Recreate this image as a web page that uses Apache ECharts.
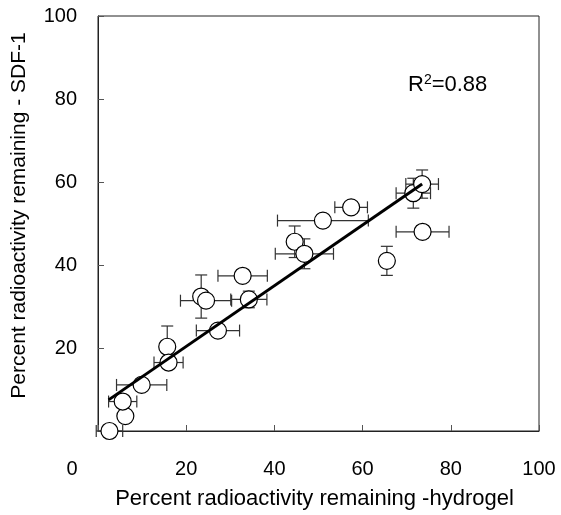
<!DOCTYPE html>
<html>
<head>
<meta charset="utf-8">
<script src="https://cdn.jsdelivr.net/npm/echarts@6/dist/echarts.min.js"></script>
<style>
html, body { margin: 0; padding: 0; background: #fff; }
#chart { width: 561px; height: 515px; }
</style>
</head>
<body>
<div id="chart"></div>
<script>
// values
var hydrogel = [2.6, 6.2, 5.6, 9.9, 15.7, 16.0, 27.2, 23.4, 24.5, 32.8, 34.2, 44.6, 46.8, 51.0, 57.4, 65.5, 71.5, 73.5, 73.6];
var sdf1     = [0.0, 3.6, 7.1, 11.1, 20.3, 16.5, 24.2, 32.4, 31.4, 37.4, 31.7, 45.6, 42.7, 50.7, 53.9, 41.0, 57.3, 59.5, 48.0];
var errX     = [3.0, 0, 3.2, 5.7, 0, 3.3, 4.9, 0, 5.8, 5.6, 4.1, 0, 6.6, 10.3, 3.7, 0, 3.9, 3.7, 6.0];
var errY     = [0, 0, 0, 0, 5.0, 0, 0, 5.2, 0, 0, 2.0, 3.8, 3.6, 1.5, 0, 3.5, 3.6, 3.4, 1.5];
var fitX = [2.4, 73.5];
var fitY = [7.5, 59.5];
var xTicks = [0, 20, 40, 60, 80, 100];
var yTicks = [0, 20, 40, 60, 80, 100];

var font = 'Liberation Sans, Arial, sans-serif';
var myChart = echarts.init(document.getElementById('chart'));

var points = hydrogel.map(function (x, i) { return [x, sdf1[i]]; });
var bars = hydrogel.map(function (x, i) { return [x, sdf1[i], errX[i], errY[i]]; });
var fit = fitX.map(function (x, i) { return [x, fitY[i]]; });

function renderErr(params, api) {
    var x = api.value(0), y = api.value(1), ex = api.value(2), ey = api.value(3);
    var cap = 6;
    var st = { stroke: '#333', lineWidth: 1.2 };
    var kids = [];
    if (ex > 0) {
        var l = api.coord([x - ex, y]), r = api.coord([x + ex, y]);
        kids.push({ type: 'line', shape: { x1: l[0], y1: l[1], x2: r[0], y2: r[1] }, style: st });
        kids.push({ type: 'line', shape: { x1: l[0], y1: l[1] - cap, x2: l[0], y2: l[1] + cap }, style: st });
        kids.push({ type: 'line', shape: { x1: r[0], y1: r[1] - cap, x2: r[0], y2: r[1] + cap }, style: st });
    }
    if (ey > 0) {
        var t = api.coord([x, y + ey]), b = api.coord([x, y - ey]);
        kids.push({ type: 'line', shape: { x1: t[0], y1: t[1], x2: b[0], y2: b[1] }, style: st });
        kids.push({ type: 'line', shape: { x1: t[0] - cap, y1: t[1], x2: t[0] + cap, y2: t[1] }, style: st });
        kids.push({ type: 'line', shape: { x1: b[0] - cap, y1: b[1], x2: b[0] + cap, y2: b[1] }, style: st });
    }
    return { type: 'group', children: kids };
}

var option = {
    animation: false,
    grid: {
        left: 98, right: 22, top: 16, bottom: 84,
        show: true, borderColor: '#222', borderWidth: 1
    },
    xAxis: {
        type: 'value',
        min: xTicks[0], max: xTicks[xTicks.length - 1], interval: 20,
        name: 'Percent radioactivity remaining -hydrogel',
        nameLocation: 'middle',
        nameGap: 57,
        nameTextStyle: { fontFamily: font, fontSize: 22, color: '#000', padding: [0, 8, 0, 0] },
        axisLine: { show: true, lineStyle: { color: '#222', width: 1 } },
        axisTick: { show: true, inside: true, length: 6, lineStyle: { color: '#555' } },
        axisLabel: {
            margin: 28, fontFamily: font, fontSize: 20, color: '#000',
            formatter: function (v) { return v === 0 ? '' : v; }
        },
        splitLine: { show: false }
    },
    yAxis: {
        type: 'value',
        min: yTicks[0], max: yTicks[yTicks.length - 1], interval: 20,
        name: 'Percent radioactivity remaining - SDF-1',
        nameLocation: 'middle',
        nameGap: 68,
        nameTextStyle: { fontFamily: font, fontSize: 21, color: '#000', padding: [0, 0, 0, 16] },
        axisLine: { show: true, lineStyle: { color: '#222', width: 1 } },
        axisTick: { show: true, inside: true, length: 6, lineStyle: { color: '#555' } },
        axisLabel: {
            margin: 21, fontFamily: font, fontSize: 20, color: '#000',
            formatter: function (v) { return v === 0 ? '' : v; }
        },
        splitLine: { show: false }
    },
    graphic: [
        {
            type: 'text', x: 72, y: 469, z: 10,
            style: { text: '0', font: '20px ' + font, fill: '#000', align: 'center', verticalAlign: 'middle' }
        },
        {
            type: 'text', x: 408, y: 85, z: 10,
            style: {
                text: '{r|R}{s|2}{r|=0.88}',
                align: 'left', verticalAlign: 'middle',
                rich: {
                    r: { fontFamily: font, fontSize: 22, color: '#000', lineHeight: 24 },
                    s: { fontFamily: font, fontSize: 14, color: '#000', verticalAlign: 'top', lineHeight: 16 }
                }
            }
        }
    ],
    series: [
        {
            type: 'custom',
            renderItem: renderErr,
            data: bars,
            z: 2
        },
        {
            type: 'scatter',
            data: points,
            symbol: 'circle',
            symbolSize: 17,
            itemStyle: { color: '#fff', borderColor: '#000', borderWidth: 1.2, opacity: 1 },
            z: 3
        },
        {
            type: 'line',
            data: fit,
            showSymbol: false,
            lineStyle: { color: '#000', width: 3 },
            z: 4
        }
    ]
};
myChart.setOption(option);
window.addEventListener('resize', function () {
    myChart.resize();
});
</script>
</body>
</html>
